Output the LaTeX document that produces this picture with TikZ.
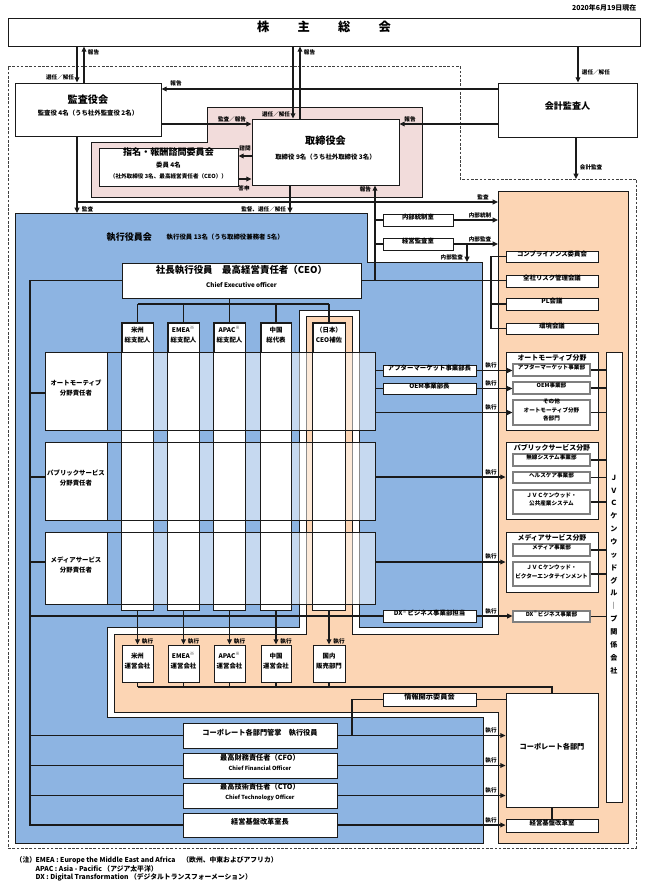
\documentclass[tikz,border=0pt]{standalone}
\usepackage{fontspec}
\usepackage{graphicx}
\setmainfont{Noto Sans CJK JP}
\usetikzlibrary{arrows.meta,fit,calc}
\definecolor{cblue}{HTML}{8DB4E2}
\definecolor{cpeach}{HTML}{FCD5B4}
\definecolor{cpink}{HTML}{F2DCDB}
\definecolor{cline}{HTML}{1A1A1A}
\definecolor{cgray}{HTML}{7F7F7F}
\definecolor{cdash}{HTML}{404040}
\newcommand\szT{\fontsize{9.2pt}{11pt}\selectfont\bfseries}
\newcommand\szH{\fontsize{7.6pt}{9pt}\selectfont\bfseries}
\newcommand\szM{\fontsize{6.8pt}{8pt}\selectfont\bfseries}
\newcommand\szC{\fontsize{7.1pt}{8pt}\selectfont\bfseries}
\newcommand\szL{\fontsize{5.4pt}{7.5pt}\selectfont\bfseries}
\newcommand\szS{\fontsize{5.2pt}{6.5pt}\selectfont\bfseries}
\newcommand\szB{\fontsize{4.8pt}{7.5pt}\selectfont\bfseries}
\newcommand\szF{\fontsize{5.1pt}{6.5pt}\selectfont\bfseries}
\newcommand\szE{\fontsize{4.7pt}{6pt}\selectfont\bfseries}
\newcommand\szX{\fontsize{4.2pt}{5pt}\selectfont\bfseries}
\newcommand\szO{\fontsize{4.2pt}{6.4pt}\selectfont\bfseries}
\newcommand\szJ{\fontsize{5.3pt}{9.65pt}\selectfont\bfseries}
\begin{document}
\begin{tikzpicture}[x=0.75pt,y=-0.75pt,
  box/.style={draw=cline, line width=0.6pt, fill=white, inner sep=0pt, align=center, font=\szB},
  gbox/.style={box, draw=cgray, line width=0.9pt, font=\szX},
  band/.style={fill=white, inner sep=0pt, draw=none},
  rowbox/.style={draw=cline, line width=0.6pt, inner sep=0pt},
  con/.style={draw=cline, line width=0.9pt},
  arr/.style={con, -{Triangle[length=4pt,width=3.6pt]}},
  lbl/.style={font=\szX, inner sep=0.5pt}]
\useasboundingbox (0,0) rectangle (648,886);

% ---------- regions ----------
\draw[cdash, line width=0.6pt, dash pattern=on 2pt off 1.2pt]
  (8,66) -- (460,66) -- (460,179) -- (636,179) -- (636,848) -- (8,848) -- cycle;
\filldraw[fill=cpink, draw=cline, line width=0.5pt]
  (207,107) -- (422,107) -- (422,197) -- (91,197) -- (91,142) -- (207,142) -- cycle;
\filldraw[fill=cblue, draw=cline, line width=0.6pt]
  (15,213) -- (367,213) -- (367,262) -- (482,262) -- (482,627) -- (359,627) -- (359,310)
  -- (299,310) -- (299,627) -- (107,627) -- (107,717) -- (483,717) -- (483,843) -- (15,843) -- cycle;
\filldraw[fill=cpeach, draw=cline, line width=0.6pt]
  (306,316) -- (352,316) -- (352,634) -- (498,634) -- (498,191) -- (628,191) -- (628,843)
  -- (498,843) -- (498,712) -- (114,712) -- (114,634) -- (306,634) -- cycle;

% ---------- top ----------
\node[anchor=east, font=\szS] (date) at (641,8) {2020年6月19日現在};
\node[box, font=\szT, fit={(8,18)(640,46)}] (sh) {株\hspace{2.3em}主\hspace{2.3em}総\hspace{2.3em}会};
\node[box, fit={(15,83)(161,136)}] (kansa) {{\szH 監査役会}\\[1.5pt]{\szB 監査役 4名（うち社外監査役 2名）}};
\node[box, font=\szM, fit={(498,83)(637,137)}] (kaikei) {会計監査人};
\node[box, fit={(252,119)(399,185)}] (tori) {{\szH 取締役会}\\[3.7pt]{\szB 取締役 9名（うち社外取締役 3名）}};
\node[box, fit={(99,148)(238,186)}] (shimei) {{\szM 指名・報酬諮問委員会}\\[1.5pt]{\szB 委員 4名}\\[0.7pt]{\szX （社外取締役 3名、最高経営責任者（CEO））}};

\node[anchor=west, font=\szM] (exectitle) at (102,237) {執行役員会};
\node[anchor=west, font=\szB] (execsub) at (162,237.5) {執行役員 13名（うち取締役兼務者 5名）};
\node[box, fit={(122,263)(361,298)}] (ceo) {{\szC 社長執行役員　最高経営責任者（CEO）}\\[3pt]{\szE Chief Executive officer}};

\node[box, fit={(383,214)(453,226)}] (naibu) {内部統制室};
\node[box, fit={(383,238)(453,250)}] (kanshitsu) {経営監査室};
\node[box, fit={(506,251)(598,262)}] (comp) {コンプライアンス委員会};
\node[box, fit={(506,275)(598,287)}] (risk) {全社リスク管理会議};
\node[box, fit={(506,298)(598,310)}] (pl) {PL会議};
\node[box, fit={(506,323)(598,334)}] (env) {環境会議};

% ---------- matrix ----------
\node[band, fit={(122,323)(153,610)}] (b1) {};
\node[band, fit={(168,323)(199,610)}] (b2) {};
\node[band, fit={(214,323)(245,610)}] (b3) {};
\node[band, fit={(261,323)(291,610)}] (b4) {};
\node[band, fit={(313,323)(345,610)}] (b5) {};
\fill[white, fill opacity=0.5] (122,352) rectangle (375,430);
\fill[white, fill opacity=0.5] (122,442) rectangle (375,520);
\fill[white, fill opacity=0.5] (122,532) rectangle (375,604);
\foreach \b in {b1,b2,b3,b4,b5}{\draw[cline, line width=0.5pt] (\b.north west) rectangle (\b.south east);}
\node[rowbox, fit={(45,352)(375,430)}] (r1) {};
\node[rowbox, fit={(45,442)(375,520)}] (r2) {};
\node[rowbox, fit={(45,532)(375,604)}] (r3) {};
\node[box, fit={(45,352)(107,430)}] (rl1) {オートモーティブ\\分野責任者};
\node[box, fit={(45,442)(107,520)}] (rl2) {パブリックサービス\\分野責任者};
\node[box, fit={(45,532)(107,604)}] (rl3) {メディアサービス\\分野責任者};
\node[box, fit={(122,323)(153,352)}] (c1) {米州\\総支配人};
\node[box, fit={(168,323)(199,352)}] (c2) {EMEA\textsuperscript{※}\\総支配人};
\node[box, fit={(214,323)(245,352)}] (c3) {APAC\textsuperscript{※}\\総支配人};
\node[box, fit={(261,323)(291,352)}] (c4) {中国\\総代表};
\node[box, fit={(313,323)(345,352)}] (c5) {（日本）\\CEO補佐};

% ---------- right side ----------
\node[box, fit={(383,365)(476,376)}] (am) {アフターマーケット事業部長};
\node[box, fit={(383,383)(476,394)}] (oem) {OEM事業部長};
\node[box, fit={(383,610)(476,622)}] (dxh) {DX\textsuperscript{※}ビジネス事業部担当};

\node[box, fit={(506,352)(598,430)}] (auto) {};
\node[font=\szS] (autot) at (552,357.5) {オートモーティブ分野};
\node[gbox, fit={(513,364)(590,376)}] (amd) {アフターマーケット事業部};
\node[gbox, fit={(513,382)(590,394)}] (oemd) {OEM事業部};
\node[gbox, font=\szO, fit={(513,400)(590,425)}] (oth) {その他\\オートモーティブ分野\\各部門};

\node[box, fit={(506,442)(598,519)}] (pub) {};
\node[font=\szS] (pubt) at (552,447.5) {パブリックサービス分野};
\node[gbox, fit={(513,454)(590,466)}] (mus) {無線システム事業部};
\node[gbox, fit={(513,472)(590,483)}] (hc) {ヘルスケア事業部};
\node[gbox, font=\szO, fit={(513,490)(590,514)}] (jps) {ＪＶＣケンウッド・\\公共産業システム};

\node[box, fit={(506,532)(598,592)}] (med) {};
\node[font=\szS] (medt) at (552,537.5) {メディアサービス分野};
\node[gbox, fit={(513,544)(590,556)}] (md) {メディア事業部};
\node[gbox, font=\szO, fit={(513,562)(590,586)}] (jve) {ＪＶＣケンウッド・\\ビクターエンタテインメント};

\node[gbox, fit={(513,611)(590,622)}] (dxd) {DX\textsuperscript{※}ビジネス事業部};
\node[box, font=\szJ, fit={(606,352)(622,802)}] (jvc) {Ｊ\\Ｖ\\Ｃ\\ケ\\ン\\ウ\\ッ\\ド\\グ\\ル\\｜\\プ\\関\\係\\会\\社};

% ---------- operating companies ----------
\node[box, fit={(122,645)(153,682)}] (o1) {米州\\運営会社};
\node[box, fit={(168,645)(199,682)}] (o2) {EMEA\textsuperscript{※}\\運営会社};
\node[box, fit={(214,645)(245,682)}] (o3) {APAC\textsuperscript{※}\\運営会社};
\node[box, fit={(261,645)(291,682)}] (o4) {中国\\運営会社};
\node[box, fit={(313,645)(345,682)}] (o5) {国内\\販売部門};

% ---------- corporate ----------
\node[box, font=\szL, fit={(383,693)(476,706)}] (info) {情報開示委員会};
\node[box, font=\szL, fit={(506,693)(598,807)}] (corp) {コーポレート各部門};
\node[box, fit={(506,819)(598,832)}] (kk) {経営基盤改革室};
\node[box, font=\szL, fit={(183,723)(337,748)}] (cm) {コーポレート各部門管掌　執行役員};
\node[box, fit={(183,753)(337,778)}] (cfo) {{\szL 最高財務責任者（CFO）}\\{\szX Chief Financial Officer}};
\node[box, fit={(183,783)(337,808)}] (cto) {{\szL 最高技術責任者（CTO）}\\{\szX Chief Technology Officer}};
\node[box, font=\szL, fit={(183,813)(337,837)}] (kkc) {経営基盤改革室長};

% ---------- helper levels ----------
\coordinate (xA) at (77,0);  \coordinate (xB) at (84,0);
\coordinate (xC) at (293,0); \coordinate (xD) at (300,0);
\coordinate (xE) at (578,0); \coordinate (xF) at (576,0);
\coordinate (xG) at (290,0); \coordinate (xH) at (375,0);
\coordinate (xI) at (467,0); \coordinate (xJ) at (352,0);
\coordinate (xL) at (30,0);  \coordinate (xBus) at (491,0);
\coordinate (peachL) at (498,0);
\coordinate (yA) at (0,89);  \coordinate (yB) at (0,124);
\coordinate (yC) at (0,156); \coordinate (yD) at (0,179);
\coordinate (yE) at (0,202); \coordinate (blueTop) at (0,213);
\coordinate (blueNotch) at (0,262); \coordinate (dashY) at (0,179);
\coordinate (yT) at (0,304); \coordinate (yBot) at (0,687);
\coordinate (yR1) at (0,393); \coordinate (yR2) at (0,477); \coordinate (yR3) at (0,562);

% ---------- connectors ----------
\draw[arr] (sh.south -| xA) -- (kansa.north -| xA);
\draw[arr] (kansa.north -| xB) -- (sh.south -| xB);
\draw[arr] (sh.south -| xC) -- (tori.north -| xC);
\draw[arr] (tori.north -| xD) -- (sh.south -| xD);
\draw[arr] (sh.south -| xE) -- (kaikei.north -| xE);
\draw[arr] (kaikei.west |- yA) -- (kansa.east |- yA);
\draw[arr] (kaikei.west |- yB) -- (tori.east |- yB);
\draw[arr] (kansa.east |- yB) -- (tori.west |- yB);
\draw[arr] (tori.west |- yC) -- (shimei.east |- yC);
\draw[arr] (shimei.east |- yD) -- (tori.west |- yD);
\draw[arr] (kansa.south -| xA) -- (xA |- blueTop);
\draw[arr] (xA |- yE) -- (peachL |- yE);
\draw[arr] (tori.south -| xG) -- (xG |- blueTop);
\draw[arr] (ceo.east -| xH) -- (tori.south -| xH);
\draw[arr] (kaikei.south -| xF) -- (xF |- dashY);
\draw[con] (naibu.west -| xH) -- (naibu.west);
\draw[con] (kanshitsu.west -| xH) -- (kanshitsu.west);
\draw[arr] (naibu.east) -- (naibu.east -| peachL);
\draw[arr] (kanshitsu.east) -- (kanshitsu.east -| peachL);
\draw[arr] (kanshitsu.east -| xI) -- (xI |- blueNotch);
\draw[con] (ceo.east) -- (ceo.east -| risk.west);
\draw[con] (comp.west) -| (xBus |- env.west) -- (env.west);
\draw[con] (pl.west) -- (pl.west -| xBus);

% column tree
\draw[con] (c3.north |- ceo.south) -- (c3.north |- yT);
\draw[con] (c1.north |- yT) -- (c5.north |- yT);
\foreach \c in {c1,c2,c3,c4,c5}{\draw[con] (\c.north |- yT) -- (\c.north);}

% left bus
\draw[con] (ceo.west) -| (xL |- kkc.west) -- (kkc.west);
\draw[con] (xL |- yR1) -- (rl1.west |- yR1);
\draw[con] (xL |- yR2) -- (rl2.west |- yR2);
\draw[con] (xL |- yR3) -- (rl3.west |- yR3);
\draw[con] (xL |- dxh.west) -- (dxh.west);
\draw[con] (xL |- cm.west) -- (cm.west);
\draw[con] (xL |- cfo.west) -- (cfo.west);
\draw[con] (xL |- cto.west) -- (cto.west);

% rows to the right
\draw[con] (r1.east |- am.west) -- (am.west);
\draw[con] (r1.east |- oem.west) -- (oem.west);
\draw[arr] (am.east) -- (am.east -| amd.west);
\draw[arr] (oem.east) -- (oem.east -| oemd.west);
\draw[arr] (r1.east |- oth.west) -- (oth.west);
\draw[arr] (r2.east |- yR2) -- (pub.west |- yR2);
\draw[arr] (r3.east |- yR3) -- (med.west |- yR3);
\draw[arr] (dxh.east) -- (dxh.east -| dxd.west);
\foreach \s in {amd,oemd,oth,mus,hc,jps,md,jve,dxd}{\draw[con] (\s.east) -- (\s.east -| jvc.west);}

% operating companies
\draw[arr] (b1.south) -- (o1.north);
\draw[arr] (b2.south) -- (o2.north);
\draw[arr] (b3.south) -- (o3.north);
\draw[arr] (b4.south) -- (o4.north);
\draw[arr] (b5.south) -- (o5.north);
\foreach \o in {o1,o2,o3,o4,o5}{\draw[con] (\o.south) -- (\o.south |- yBot);}
\draw[con] (o1.south |- yBot) -- (corp.north |- yBot) -- (corp.north);

% corporate
\draw[con] (info.east) -- (info.east -| corp.west);
\draw[con] (info.west) -| (xJ |- cm.east);
\draw[arr] (cm.east) -- (cm.east -| corp.west);
\draw[arr] (cfo.east) -- (cfo.east -| corp.west);
\draw[arr] (cto.east) -- (cto.east -| corp.west);
\draw[arr] (kkc.east) -- (kkc.east -| kk.west);
\draw[con] (corp.south) -- (kk.north);

% ---------- labels ----------
\node[lbl, anchor=east] (l1) at (75,77) {選任／解任};
\node[lbl, anchor=west] (l2) at (87,52) {報告};
\node[lbl, anchor=east] (l3) at (291,114) {選任／解任};
\node[lbl, anchor=west] (l4) at (303,52) {報告};
\node[lbl, anchor=west] (l5) at (581,72) {選任／解任};
\node[lbl] (l6) at (176,83) {報告};
\node[lbl] (l7) at (410,119) {報告};
\node[lbl] (l8) at (232,119) {監査／報告};
\node[lbl] (l9) at (245,148) {諮問};
\node[lbl] (l10) at (244,188) {答申};
\node[lbl, anchor=west] (l11) at (81,209) {監査};
\node[lbl, anchor=east] (l12) at (287,209) {監督、選任／解任};
\node[lbl] (l13) at (483,197) {監査};
\node[lbl, anchor=east] (l14) at (372,189) {報告};
\node[lbl] (l15) at (480,215) {内部統制};
\node[lbl] (l16) at (480,239) {内部監査};
\node[lbl, anchor=east] (l17) at (464,257) {内部監査};
\node[lbl, anchor=west] (l18) at (579,167) {会計監査};
\foreach \y/\n in {365.5/e1,383.5/e2,407.5/e3,472/e4,556/e5,611/e6,730.5/e7,760.5/e8,790.5/e9,820/e10}{
  \node[lbl] (\n) at (491,\y) {執行};}
\foreach \x/\n in {141/f1,187/f2,233/f3,279.5/f4,332.5/f5}{
  \node[lbl, anchor=west] (\n) at (\x,641) {執行};}

% ---------- footnotes ----------
\node[anchor=west, font=\szF] (fn0) at (11,860) {（注）};
\node[anchor=west, font=\szF] (fn1) at (31,860) {EMEA : Europe the Middle East and Africa　（欧州、中東およびアフリカ）};
\node[anchor=west, font=\szF] (fn2) at (31,868.5) {APAC : Asia - Pacific （アジア太平洋）};
\node[anchor=west, font=\szF] (fn3) at (31,877) {DX : Digital Transformation （デジタルトランスフォーメーション）};
\end{tikzpicture}
\end{document}
